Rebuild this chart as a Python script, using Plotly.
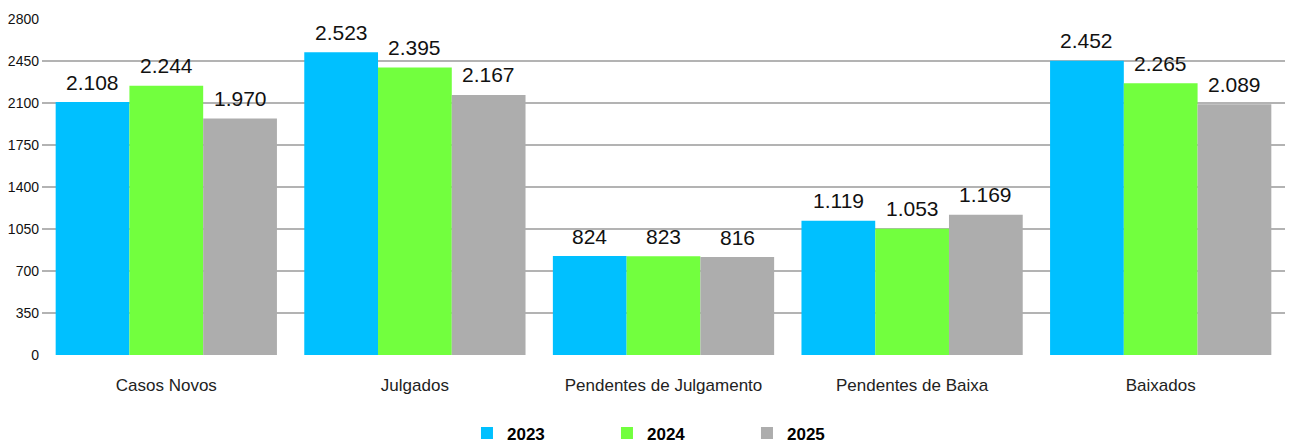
import plotly.graph_objects as go

categories = ["Casos Novos", "Julgados", "Pendentes de Julgamento", "Pendentes de Baixa", "Baixados"]
series_names = ["2023", "2024", "2025"]
values_2023 = [2108, 2523, 824, 1119, 2452]
values_2024 = [2244, 2395, 823, 1053, 2265]
values_2025 = [1970, 2167, 816, 1169, 2089]
y_ticks = [0, 350, 700, 1050, 1400, 1750, 2100, 2450, 2800]

colors = ["#00C0FF", "#72FF3E", "#ADADAD"]

W, H = 1295, 444
ML, MR, MT, MB = 42, 10, 19, 89
BARGAP = 0.11


def fmt(v):
    return f"{v:,}".replace(",", ".")


fig = go.Figure()
all_vals = [values_2023, values_2024, values_2025]
for name, vals, col in zip(series_names, all_vals, colors):
    fig.add_trace(go.Bar(
        x=categories, y=vals, name=name,
        marker=dict(color=col, line=dict(width=0)),
        cliponaxis=False,
    ))

# value labels above each bar
slot_px = (W - ML - MR) / len(categories)
bar_px = slot_px * (1 - BARGAP) / len(series_names)
annotations = []
for i, vals in enumerate(all_vals):
    xshift = (i - (len(series_names) - 1) / 2) * bar_px
    for c, v in zip(categories, vals):
        annotations.append(dict(
            x=c, y=v, xref="x", yref="y", text=fmt(v), showarrow=False,
            xshift=xshift, yshift=20, yanchor="middle", xanchor="center",
            font=dict(family="Liberation Sans, Arial, sans-serif", size=21, color="#111111"),
        ))

fig.update_layout(
    width=W, height=H,
    margin=dict(l=ML, r=MR, t=MT, b=MB, autoexpand=False),
    paper_bgcolor="white", plot_bgcolor="white",
    barmode="group", bargap=BARGAP, bargroupgap=0,
    showlegend=True,
    legend=dict(orientation="h", xref="container", yref="container",
                x=0.3606, xanchor="left", y=0.024, yanchor="middle",
                entrywidth=95, entrywidthmode="pixels",
                font=dict(family="Liberation Sans, Arial, sans-serif", size=17, color="#000000",
                          weight="bold"),
                itemwidth=30, tracegroupgap=0),
    font=dict(family="Liberation Sans, Arial, sans-serif"),
    annotations=annotations,
)
fig.update_yaxes(range=[0, 2800], tickvals=y_ticks, ticktext=[str(t) for t in y_ticks],
                 showgrid=True, gridcolor="#B3B3B3", gridwidth=2,
                 ticks="", ticklabelstandoff=2,
                 tickfont=dict(size=14, color="#111111"), zeroline=False, showline=False)
fig.update_xaxes(showgrid=False, ticks="", showline=False,
                 tickfont=dict(size=17, color="#222222"), ticklabelstandoff=18)

fig.write_html("out.html", config={"displayModeBar": False},
               post_script="document.body.style.margin='0';document.body.style.overflow='hidden';")
